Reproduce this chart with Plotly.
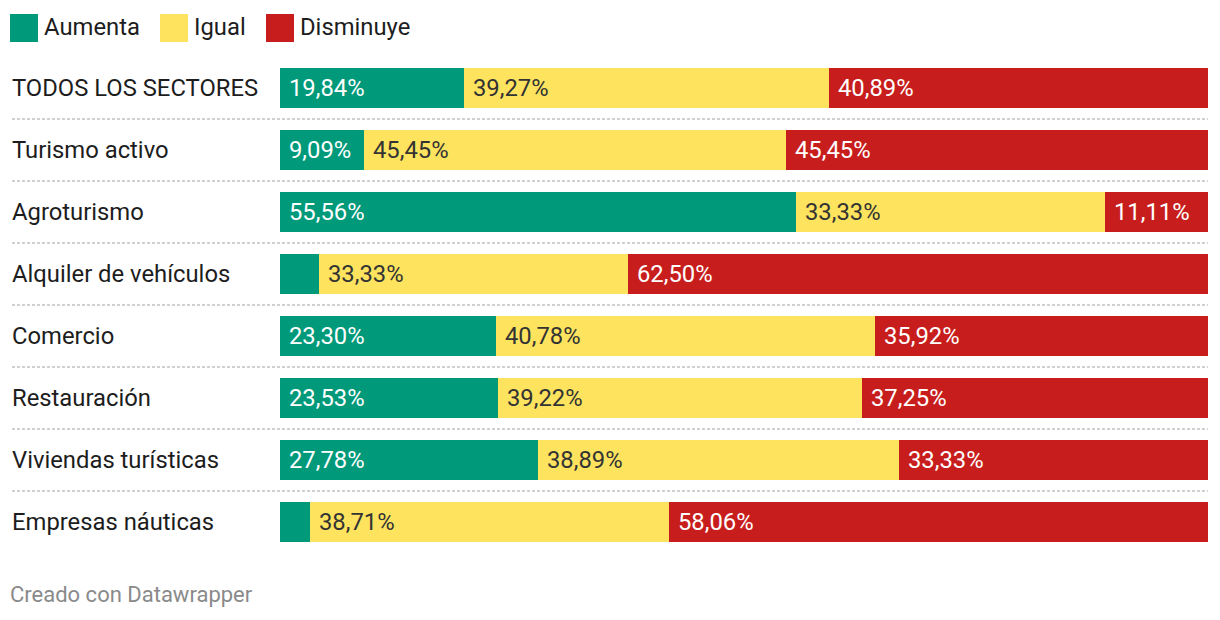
import plotly.graph_objects as go

categories = ["TODOS LOS SECTORES", "Turismo activo", "Agroturismo", "Alquiler de vehículos",
              "Comercio", "Restauración", "Viviendas turísticas", "Empresas náuticas"]
aumenta = [19.84, 9.09, 55.56, 4.17, 23.30, 23.53, 27.78, 3.23]
igual = [39.27, 45.45, 33.33, 33.33, 40.78, 39.22, 38.89, 38.71]
disminuye = [40.89, 45.45, 11.11, 62.50, 35.92, 37.25, 33.33, 58.06]
series_names = ["Aumenta", "Igual", "Disminuye"]
colors = ["#00997a", "#fee35f", "#c71e1d"]
text_colors = ["#ffffff", "#333333", "#ffffff"]
footer = "Creado con Datawrapper"

# the page body has an 8px margin; figure sized to fit inside the window
W, H = 1204, 604
L, R = 272, 4
ROW = 62
TOP = 49
n = len(categories)
B = H - TOP - n * ROW
FONT = "Roboto"

pw = W - L - R
ph = H - TOP - B
def px_x(x):
    return (x - L) / pw
def px_y(y):
    return 1 - (y - TOP) / ph

fig = go.Figure()
series = [aumenta, igual, disminuye]
ypos = list(range(n))
for name, vals, col in zip(series_names, series, colors):
    fig.add_trace(go.Bar(y=ypos, x=vals, orientation="h", name=name, marker=dict(color=col, line=dict(width=0)),
                         width=40 / ROW, showlegend=False, hoverinfo="x+name"))

annotations = []
shapes = []
for i in range(n):
    start = 0
    for vals, tc in zip(series, text_colors):
        v = vals[i]
        if v >= 6:
            annotations.append(dict(x=start, y=i, xref="x", yref="y", text=f"{v:.2f}%".replace(".", ","),
                                    xanchor="left", yanchor="middle", xshift=7, showarrow=False,
                                    font=dict(family=FONT, size=23.8, color=tc)))
        start += v
    annotations.append(dict(x=px_x(2), y=i, xref="paper", yref="y", text=categories[i],
                            xanchor="left", yanchor="middle", showarrow=False,
                            font=dict(family=FONT, size=23.8, color="#1d1d1d")))
    if i < n - 1:
        shapes.append(dict(type="line", xref="paper", yref="y", x0=px_x(4), x1=1,
                           y0=i + 0.5, y1=i + 0.5, line=dict(color="#d0d0d0", width=2, dash="3px,2px")))

legend_pos = [(2, 34), (152, 184), (258, 290)]
for (sx, tx), name, col in zip(legend_pos, series_names, colors):
    shapes.append(dict(type="rect", xref="paper", yref="paper", x0=px_x(sx), x1=px_x(sx + 28),
                       y0=px_y(34), y1=px_y(6), fillcolor=col, line=dict(width=0)))
    annotations.append(dict(x=px_x(tx), y=px_y(19), xref="paper", yref="paper", text=name,
                            xanchor="left", yanchor="middle", showarrow=False,
                            font=dict(family=FONT, size=23.8, color="#1d1d1d")))

annotations.append(dict(x=px_x(0), y=px_y(586), xref="paper", yref="paper", text=footer,
                        xanchor="left", yanchor="middle", showarrow=False,
                        font=dict(family=FONT, size=22, color="#8a8a8a")))

fig.update_layout(
    barmode="stack",
    width=W, height=H,
    margin=dict(l=L, r=R, t=TOP, b=B, pad=0),
    paper_bgcolor="white", plot_bgcolor="white",
    xaxis=dict(range=[0, 100], visible=False, fixedrange=True),
    yaxis=dict(range=[n - 0.5, -0.5], visible=False, fixedrange=True),
    annotations=annotations, shapes=shapes,
    bargap=0,
)

fig.write_html("out.html")
